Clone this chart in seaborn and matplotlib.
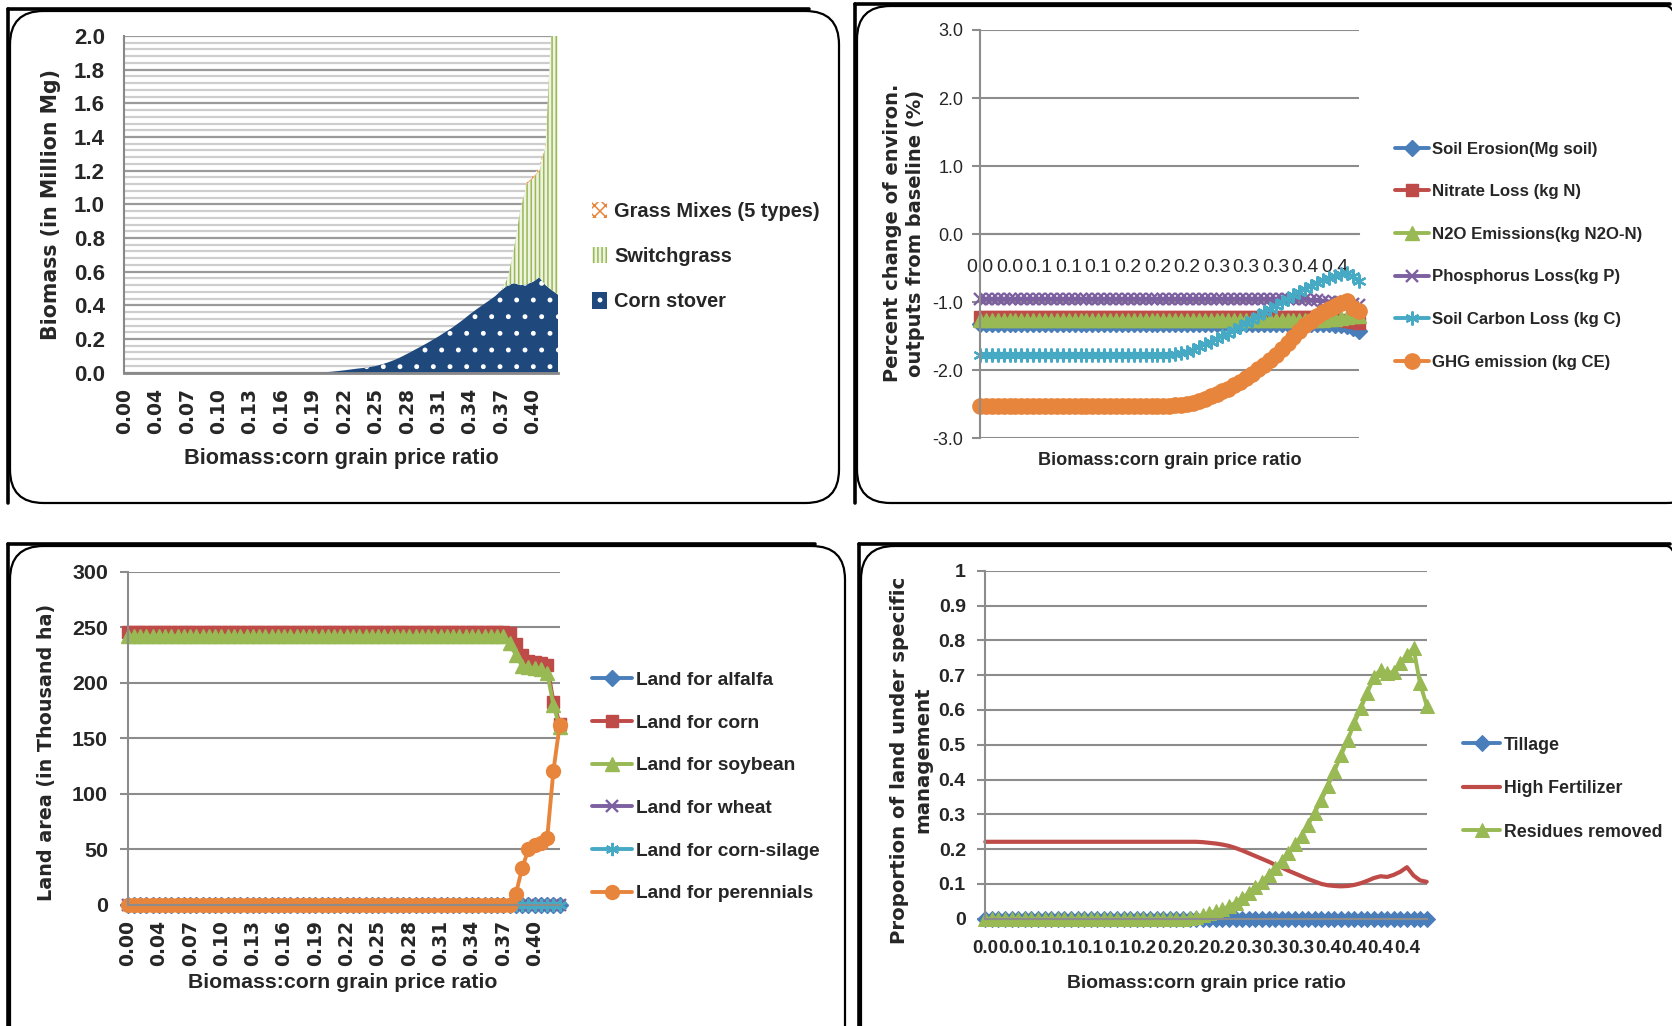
import numpy as np
import matplotlib
matplotlib.use("Agg")
import matplotlib.pyplot as plt
import seaborn as sns
from matplotlib.patches import FancyBboxPatch, Patch
from matplotlib.lines import Line2D
from matplotlib.font_manager import FontProperties

# ---------------- data ----------------
ratio_ticks_2dp = ['0.00', '0.04', '0.07', '0.10', '0.13', '0.16', '0.19',
                   '0.22', '0.25', '0.28', '0.31', '0.34', '0.37', '0.40']
ratio_ticks_env = ['0.0', '0.0', '0.1', '0.1', '0.1', '0.2', '0.2', '0.2',
                   '0.3', '0.3', '0.3', '0.4', '0.4']
ratio_ticks_mgmt = ['0.0', '0.0', '0.1', '0.1', '0.1', '0.1', '0.2', '0.2', '0.2',
                    '0.2', '0.3', '0.3', '0.3', '0.4', '0.4', '0.4', '0.4']

# Panel 1: biomass (million Mg), 70 price steps
corn_stover = [0, 0, 0, 0, 0, 0, 0, 0, 0, 0,
               0, 0, 0, 0, 0, 0, 0, 0, 0, 0,
               0, 0, 0, 0, 0, 0, 0, 0, 0, 0,
               0, 0, 0.003, 0.006, 0.010, 0.014, 0.019, 0.024, 0.028, 0.033,
               0.040, 0.050, 0.062, 0.076, 0.093, 0.112, 0.132, 0.152, 0.172, 0.194,
               0.216, 0.240, 0.263, 0.290, 0.318, 0.348, 0.376, 0.402, 0.428, 0.455,
               0.490, 0.520, 0.532, 0.520, 0.525, 0.540, 0.566, 0.520, 0.490, 0.463]
switchgrass = [0, 0, 0, 0, 0, 0, 0, 0, 0, 0,
               0, 0, 0, 0, 0, 0, 0, 0, 0, 0,
               0, 0, 0, 0, 0, 0, 0, 0, 0, 0,
               0, 0, 0, 0, 0, 0, 0, 0, 0, 0,
               0, 0, 0, 0, 0, 0, 0, 0, 0, 0,
               0, 0, 0, 0, 0, 0, 0, 0, 0, 0,
               0, 0.045, 0.208, 0.450, 0.595, 0.615, 0.634, 0.830, 1.610, 2.137]
grass_mixes = [0, 0, 0, 0, 0, 0, 0, 0, 0, 0,
               0, 0, 0, 0, 0, 0, 0, 0, 0, 0,
               0, 0, 0, 0, 0, 0, 0, 0, 0, 0,
               0, 0, 0, 0, 0, 0, 0, 0, 0, 0,
               0, 0, 0, 0, 0, 0, 0, 0, 0, 0,
               0, 0, 0, 0, 0, 0, 0, 0, 0, 0,
               0, 0, 0, 0, 0.010, 0.015, 0.020, 0.010, 0, 0]

# Panel 2: percent change of environmental outputs, 65 price steps
soil_erosion = [-1.32, -1.32, -1.32, -1.32, -1.32, -1.32, -1.32, -1.32, -1.32, -1.32,
                -1.32, -1.32, -1.32, -1.32, -1.32, -1.32, -1.32, -1.32, -1.32, -1.32,
                -1.32, -1.32, -1.32, -1.32, -1.32, -1.32, -1.32, -1.32, -1.32, -1.32,
                -1.32, -1.32, -1.32, -1.32, -1.32, -1.32, -1.32, -1.32, -1.32, -1.32,
                -1.32, -1.32, -1.32, -1.32, -1.32, -1.32, -1.32, -1.32, -1.32, -1.32,
                -1.32, -1.32, -1.32, -1.32, -1.32, -1.32, -1.32, -1.32, -1.32, -1.32,
                -1.33, -1.34, -1.35, -1.38, -1.42]
nitrate_loss = [-1.22, -1.22, -1.22, -1.22, -1.22, -1.22, -1.22, -1.22, -1.22, -1.22,
                -1.22, -1.22, -1.22, -1.22, -1.22, -1.22, -1.22, -1.22, -1.22, -1.22,
                -1.22, -1.22, -1.22, -1.22, -1.22, -1.22, -1.22, -1.22, -1.22, -1.22,
                -1.22, -1.22, -1.22, -1.22, -1.22, -1.22, -1.22, -1.22, -1.22, -1.22,
                -1.22, -1.22, -1.22, -1.22, -1.22, -1.22, -1.22, -1.22, -1.22, -1.22,
                -1.22, -1.22, -1.22, -1.22, -1.22, -1.22, -1.22, -1.22, -1.23, -1.24,
                -1.25, -1.26, -1.27, -1.29, -1.31]
n2o_emissions = [-1.26, -1.26, -1.26, -1.26, -1.26, -1.26, -1.26, -1.26, -1.26, -1.26,
                 -1.26, -1.26, -1.26, -1.26, -1.26, -1.26, -1.26, -1.26, -1.26, -1.26,
                 -1.26, -1.26, -1.26, -1.26, -1.26, -1.26, -1.26, -1.26, -1.26, -1.26,
                 -1.26, -1.26, -1.26, -1.26, -1.26, -1.26, -1.26, -1.26, -1.26, -1.26,
                 -1.26, -1.26, -1.26, -1.26, -1.26, -1.26, -1.26, -1.26, -1.26, -1.26,
                 -1.26, -1.26, -1.26, -1.26, -1.26, -1.26, -1.26, -1.26, -1.26, -1.25,
                 -1.24, -1.23, -1.22, -1.21, -1.20]
phosphorus_loss = [-0.95, -0.95, -0.95, -0.95, -0.95, -0.95, -0.95, -0.95, -0.95, -0.95,
                   -0.95, -0.95, -0.95, -0.95, -0.95, -0.95, -0.95, -0.95, -0.95, -0.95,
                   -0.95, -0.95, -0.95, -0.95, -0.95, -0.95, -0.95, -0.95, -0.95, -0.95,
                   -0.95, -0.95, -0.95, -0.95, -0.95, -0.95, -0.95, -0.95, -0.95, -0.95,
                   -0.95, -0.95, -0.95, -0.95, -0.95, -0.95, -0.95, -0.95, -0.95, -0.95,
                   -0.95, -0.95, -0.95, -0.95, -0.95, -0.96, -0.97, -0.97, -0.98, -0.99,
                   -1.00, -1.00, -1.01, -1.02, -1.04]
soil_carbon_loss = [-1.78, -1.78, -1.78, -1.78, -1.78, -1.78, -1.78, -1.78, -1.78, -1.78,
                    -1.78, -1.78, -1.78, -1.78, -1.78, -1.78, -1.78, -1.78, -1.78, -1.78,
                    -1.78, -1.78, -1.78, -1.78, -1.78, -1.78, -1.78, -1.78, -1.78, -1.78,
                    -1.78, -1.775, -1.77, -1.76, -1.75, -1.73, -1.70, -1.66, -1.62, -1.58,
                    -1.54, -1.50, -1.46, -1.41, -1.36, -1.31, -1.26, -1.21, -1.15, -1.10,
                    -1.05, -1.00, -0.95, -0.90, -0.85, -0.80, -0.76, -0.72, -0.68, -0.645,
                    -0.62, -0.59, -0.57, -0.62, -0.69]
ghg_emission = [-2.52, -2.52, -2.52, -2.52, -2.52, -2.52, -2.52, -2.52, -2.52, -2.52,
                -2.52, -2.52, -2.52, -2.52, -2.52, -2.52, -2.52, -2.52, -2.52, -2.52,
                -2.52, -2.52, -2.52, -2.52, -2.52, -2.52, -2.52, -2.52, -2.52, -2.52,
                -2.52, -2.52, -2.52, -2.515, -2.51, -2.50, -2.48, -2.45, -2.42, -2.38,
                -2.35, -2.31, -2.27, -2.22, -2.17, -2.11, -2.05, -1.98, -1.92, -1.85,
                -1.77, -1.69, -1.60, -1.51, -1.42, -1.34, -1.27, -1.21, -1.15, -1.10,
                -1.06, -1.01, -0.98, -1.08, -1.13]

# Panel 3: land area (thousand ha), 70 price steps
land_alfalfa = [0, 0, 0, 0, 0, 0, 0, 0, 0, 0,
                0, 0, 0, 0, 0, 0, 0, 0, 0, 0,
                0, 0, 0, 0, 0, 0, 0, 0, 0, 0,
                0, 0, 0, 0, 0, 0, 0, 0, 0, 0,
                0, 0, 0, 0, 0, 0, 0, 0, 0, 0,
                0, 0, 0, 0, 0, 0, 0, 0, 0, 0,
                0, 0, 0, 0, 0, 0, 0, 0, 0, 0]
land_corn = [246, 246, 246, 246, 246, 246, 246, 246, 246, 246,
             246, 246, 246, 246, 246, 246, 246, 246, 246, 246,
             246, 246, 246, 246, 246, 246, 246, 246, 246, 246,
             246, 246, 246, 246, 246, 246, 246, 246, 246, 246,
             246, 246, 246, 246, 246, 246, 246, 246, 246, 246,
             246, 246, 246, 246, 246, 246, 246, 246, 246, 246,
             246, 245, 235, 225, 220, 219, 218, 216, 183, 163]
land_soybean = [242, 242, 242, 242, 242, 242, 242, 242, 242, 242,
                242, 242, 242, 242, 242, 242, 242, 242, 242, 242,
                242, 242, 242, 242, 242, 242, 242, 242, 242, 242,
                242, 242, 242, 242, 242, 242, 242, 242, 242, 242,
                242, 242, 242, 242, 242, 242, 242, 242, 242, 242,
                242, 242, 242, 242, 242, 242, 242, 242, 242, 242,
                242, 236, 225, 215, 214, 213, 212, 209, 180, 160]
land_wheat = [0, 0, 0, 0, 0, 0, 0, 0, 0, 0,
              0, 0, 0, 0, 0, 0, 0, 0, 0, 0,
              0, 0, 0, 0, 0, 0, 0, 0, 0, 0,
              0, 0, 0, 0, 0, 0, 0, 0, 0, 0,
              0, 0, 0, 0, 0, 0, 0, 0, 0, 0,
              0, 0, 0, 0, 0, 0, 0, 0, 0, 0,
              0, 0, 0, 0, 0, 0, 0, 0, 0, 0]
land_silage = [0, 0, 0, 0, 0, 0, 0, 0, 0, 0,
               0, 0, 0, 0, 0, 0, 0, 0, 0, 0,
               0, 0, 0, 0, 0, 0, 0, 0, 0, 0,
               0, 0, 0, 0, 0, 0, 0, 0, 0, 0,
               0, 0, 0, 0, 0, 0, 0, 0, 0, 0,
               0, 0, 0, 0, 0, 0, 0, 0, 0, 0,
               0, 0, 0, 0, 0, 0, 0, 0, 0, 0]
land_perennials = [0, 0, 0, 0, 0, 0, 0, 0, 0, 0,
                   0, 0, 0, 0, 0, 0, 0, 0, 0, 0,
                   0, 0, 0, 0, 0, 0, 0, 0, 0, 0,
                   0, 0, 0, 0, 0, 0, 0, 0, 0, 0,
                   0, 0, 0, 0, 0, 0, 0, 0, 0, 0,
                   0, 0, 0, 0, 0, 0, 0, 0, 0, 0,
                   0, 0, 10, 33, 50, 54, 56, 60, 121, 162]

# Panel 4: proportion of land under management, 68 price steps
tillage = [0, 0, 0, 0, 0, 0, 0, 0, 0, 0,
           0, 0, 0, 0, 0, 0, 0, 0, 0, 0,
           0, 0, 0, 0, 0, 0, 0, 0, 0, 0,
           0, 0, 0, 0, 0, 0, 0, 0, 0, 0,
           0, 0, 0, 0, 0, 0, 0, 0, 0, 0,
           0, 0, 0, 0, 0, 0, 0, 0, 0, 0,
           0, 0, 0, 0, 0, 0, 0, 0]
high_fertilizer = [0.221, 0.221, 0.221, 0.221, 0.221, 0.221, 0.221, 0.221, 0.221, 0.221,
                   0.221, 0.221, 0.221, 0.221, 0.221, 0.221, 0.221, 0.221, 0.221, 0.221,
                   0.221, 0.221, 0.221, 0.221, 0.221, 0.221, 0.221, 0.221, 0.221, 0.221,
                   0.221, 0.221, 0.221, 0.220, 0.218, 0.216, 0.213, 0.209, 0.203, 0.196,
                   0.188, 0.180, 0.172, 0.164, 0.155, 0.147, 0.138, 0.130, 0.122, 0.114,
                   0.107, 0.100, 0.096, 0.094, 0.093, 0.094, 0.097, 0.102, 0.109, 0.117,
                   0.122, 0.120, 0.126, 0.135, 0.148, 0.124, 0.110, 0.106]
residues_removed = [0, 0, 0, 0, 0, 0, 0, 0, 0, 0,
                    0, 0, 0, 0, 0, 0, 0, 0, 0, 0,
                    0, 0, 0, 0, 0, 0, 0, 0, 0, 0,
                    0, 0.002, 0.005, 0.010, 0.017, 0.022, 0.027, 0.036, 0.046, 0.060,
                    0.074, 0.090, 0.106, 0.126, 0.146, 0.167, 0.190, 0.214, 0.238, 0.270,
                    0.305, 0.340, 0.382, 0.425, 0.470, 0.513, 0.562, 0.605, 0.650, 0.695,
                    0.715, 0.705, 0.710, 0.734, 0.758, 0.777, 0.676, 0.612]

# ---------------- style ----------------
sns.set_theme(style="white")
SANS = 'Liberation Sans'
WIDE = 'DejaVu Sans'
plt.rcParams['font.family'] = [SANS, 'DejaVu Sans']
plt.rcParams['hatch.linewidth'] = 1.1

BLUE, RED, GREEN, PURPLE, TEAL, ORANGE = '#4A7EBB', '#BE4B48', '#98B954', '#7D60A0', '#46AAC5', '#E8853C'
GRID = '#8C8C8C'

W, H = 1672, 1026
fig = plt.figure(figsize=(W / 100, H / 100), dpi=100)


def axes_px(x0, y0, x1, y1):
    return fig.add_axes([x0 / W, 1 - y1 / H, (x1 - x0) / W, (y1 - y0) / H])


def frame(x0, y0, x1, y1):
    box = FancyBboxPatch((x0 / W, 1 - y1 / H), (x1 - x0) / W, (y1 - y0) / H,
                         boxstyle='round,pad=0,rounding_size=0.02', mutation_aspect=W / H,
                         transform=fig.transFigure, fill=False, ec='black', lw=1.6, zorder=0)
    fig.add_artist(box)
    fig.add_artist(Line2D([(x0 - 2) / W, (x1 - 30) / W], [1 - (y0 - 2) / H] * 2, color='black',
                          lw=2.6, transform=fig.transFigure))
    fig.add_artist(Line2D([(x0 - 2) / W] * 2, [1 - (y0 - 2) / H, 1 - min(y1, H) / H], color='black',
                          lw=2.6, transform=fig.transFigure))


frame(10, 11, 839, 503)
frame(857, 6, 1700, 503)
frame(10, 546, 845, 1060)
frame(861, 546, 1700, 1060)

bold = dict(family=[SANS, 'DejaVu Sans'], weight='bold')


def ytitle(x, y, s, size):
    fig.text(x / W, 1 - y / H, s, rotation=90, ha='center', va='center', family=WIDE,
             weight='bold', fontsize=size, linespacing=1.3)


def xtitle(x, y, s, size):
    fig.text(x / W, 1 - y / H, s, ha='center', va='center', fontsize=size, **bold)


def legend_font(size):
    return FontProperties(family=SANS, weight='bold', size=size)


# ---------------- panel 1: stacked area ----------------
ax1 = axes_px(124.3, 36, 558.1, 372.7)
x70 = np.arange(len(corn_stover))
s1 = np.array(corn_stover)
s2 = s1 + np.array(switchgrass)
s3 = s2 + np.array(grass_mixes)
for v in np.arange(0, 2.001, 0.04):
    major = abs(v / 0.2 - round(v / 0.2)) < 1e-6
    ax1.axhline(v, color='#9A9A9A' if major else '#CDCDCD', lw=1.6, zorder=0)
ax1.fill_between(x70, 0, s1, facecolor='#1F497D', edgecolor='white', hatch='.', lw=0, zorder=2)
ax1.fill_between(x70, s1, s2, facecolor='#EEF3E2', edgecolor=GREEN, hatch='||||', lw=0, zorder=2)
ax1.fill_between(x70, s2, s3, facecolor='white', edgecolor=ORANGE, hatch='xxx', lw=0, zorder=2)
ax1.set_xlim(0, len(corn_stover) - 1)
ax1.set_ylim(0, 2.0)
ax1.set_yticks(np.arange(0, 2.001, 0.2))
ax1.set_yticklabels([f'{v:.1f}' for v in np.arange(0, 2.001, 0.2)], fontsize=16, **bold)
ax1.set_xticks(np.arange(0, 70, 5))
ax1.set_xticklabels(ratio_ticks_2dp, rotation=90, family=WIDE, weight='bold', fontsize=13.5)
ax1.tick_params(axis='y', length=0, pad=14)
ax1.tick_params(axis='x', length=0, pad=11)
for sp in ['top', 'right']:
    ax1.spines[sp].set_visible(False)
ax1.spines['left'].set_color('#888888')
ax1.spines['bottom'].set_color('#888888')
ax1.spines['left'].set_linewidth(1.5)
ax1.spines['bottom'].set_linewidth(2)
ax1.patch.set_alpha(0)
h1 = [Patch(facecolor='white', edgecolor=ORANGE, hatch='xxx', lw=0),
      Patch(facecolor='#EEF3E2', edgecolor=GREEN, hatch='||||', lw=0),
      Patch(facecolor='#1F497D', edgecolor='white', hatch='.', lw=0)]
ax1.legend(h1, ['Grass Mixes (5 types)', 'Switchgrass', 'Corn stover'], loc='center left',
           bbox_to_anchor=(592 / W, 1 - 256.5 / H), bbox_transform=fig.transFigure, frameon=False,
           handlelength=0.75, handleheight=0.9, handletextpad=0.35, labelspacing=1.3, borderpad=0,
           borderaxespad=0, prop=legend_font(14.4))
ytitle(51, 205, 'Biomass (in Million Mg)', 14.8)
xtitle(341, 458.5, 'Biomass:corn grain price ratio', 15.6)

# ---------------- panel 2: environmental outputs ----------------
ax2 = axes_px(980, 30, 1358.5, 438.3)
x65 = np.arange(len(soil_erosion))
p2 = [(soil_erosion, 'Soil Erosion(Mg soil)', BLUE, 'D', 8.5, 1),
      (nitrate_loss, 'Nitrate Loss (kg N)', RED, 's', 8, 1),
      (n2o_emissions, 'N2O Emissions(kg N2O-N)', GREEN, '^', 10, 1),
      (phosphorus_loss, 'Phosphorus Loss(kg P)', PURPLE, 'x', 8.5, 1.7),
      (soil_carbon_loss, 'Soil Carbon Loss (kg C)', TEAL, (6, 2, 0), 10, 1.6),
      (ghg_emission, 'GHG emission (kg CE)', ORANGE, 'o', 11, 1)]
for vals, name, col, mk, ms, mew in p2:
    sns.lineplot(x=x65, y=vals, ax=ax2, color=col, marker=mk, markersize=ms, markeredgecolor=col,
                 markerfacecolor=col, markeredgewidth=mew, lw=2.8, label=name, clip_on=False)
ax2.spines['bottom'].set_position(('data', 0))
ax2.set_xlim(0, len(soil_erosion) - 1)
ax2.set_ylim(-3, 3)
ax2.set_axisbelow(True)
ax2.yaxis.grid(True, color=GRID, lw=1.5)
ax2.set_yticks(np.arange(-3, 3.01, 1))
ax2.set_yticklabels([f'{v:.1f}' for v in np.arange(-3, 3.01, 1)], fontsize=13, family=SANS)
ax2.set_xticks(np.arange(0, 65, 5))
ax2.set_xticklabels(ratio_ticks_env, fontsize=14, family=SANS)
for sp in ['top', 'right']:
    ax2.spines[sp].set_visible(False)
for sp in ['left', 'bottom']:
    ax2.spines[sp].set_color(GRID)
    ax2.spines[sp].set_linewidth(1.5)
ax2.tick_params(axis='y', length=6, width=1.5, color=GRID, pad=6, left=True)
ax2.tick_params(axis='x', length=0, pad=18)
ax2.set_xlabel('')
ax2.set_ylabel('')
ax2.legend(loc='center left', bbox_to_anchor=(1395 / W, 1 - 255.7 / H), bbox_transform=fig.transFigure,
           frameon=False, handlelength=2.0, handletextpad=0.2, labelspacing=1.64, borderpad=0,
           borderaxespad=0, numpoints=1, prop=legend_font(12.1))
ytitle(904, 233, 'Percent change of environ.\noutputs from baseline (%)', 14.0)
xtitle(1170, 460.6, 'Biomass:corn grain price ratio', 13.1)

# ---------------- panel 3: land area ----------------
ax3 = axes_px(127.5, 571.7, 559.7, 905)
x70b = np.arange(len(land_corn))
p3 = [(land_alfalfa, 'Land for alfalfa', BLUE, 'D', 8, 1),
      (land_corn, 'Land for corn', RED, 's', 8, 1),
      (land_soybean, 'Land for soybean', GREEN, '^', 9.5, 1),
      (land_wheat, 'Land for wheat', PURPLE, 'x', 8, 1.7),
      (land_silage, 'Land for corn-silage', TEAL, (6, 2, 0), 9.5, 1.6),
      (land_perennials, 'Land for perennials', ORANGE, 'o', 10, 1)]
for vals, name, col, mk, ms, mew in p3:
    sns.lineplot(x=x70b, y=vals, ax=ax3, color=col, marker=mk, markersize=ms, markeredgecolor=col,
                 markerfacecolor=col, markeredgewidth=mew, lw=2.8, label=name, clip_on=False)
ax3.set_xlim(0, len(land_corn) - 1)
ax3.set_ylim(0, 300)
ax3.set_axisbelow(True)
ax3.yaxis.grid(True, color=GRID, lw=1.5)
ax3.set_yticks(np.arange(0, 301, 50))
ax3.set_yticklabels([str(v) for v in range(0, 301, 50)], fontsize=15.4, **bold)
ax3.set_xticks(np.arange(0, 70, 5))
ax3.set_xticklabels(ratio_ticks_2dp, rotation=90, family=WIDE, weight='bold', fontsize=13.5)
for sp in ['top', 'right']:
    ax3.spines[sp].set_visible(False)
for sp in ['left', 'bottom']:
    ax3.spines[sp].set_color(GRID)
    ax3.spines[sp].set_linewidth(1.5)
ax3.tick_params(axis='y', length=6, width=1.5, color=GRID, pad=8, left=True)
ax3.tick_params(axis='x', length=0, pad=11)
ax3.set_xlabel('')
ax3.set_ylabel('')
ax3.legend(loc='center left', bbox_to_anchor=(592 / W, 1 - 787 / H), bbox_transform=fig.transFigure,
           frameon=False, handlelength=2.1, handletextpad=0.2, labelspacing=1.32, borderpad=0,
           borderaxespad=0, numpoints=1, prop=legend_font(13.8))
ytitle(47, 752, 'Land area (in Thousand ha)', 13.8)
xtitle(343, 982, 'Biomass:corn grain price ratio', 15.3)

# ---------------- panel 4: management ----------------
ax4 = axes_px(985.3, 570.7, 1426.7, 918.7)
x68 = np.arange(len(tillage))
sns.lineplot(x=x68, y=tillage, ax=ax4, color=BLUE, marker='D', markersize=8, markeredgecolor=BLUE,
             markerfacecolor=BLUE, lw=2.8, label='Tillage', clip_on=False)
sns.lineplot(x=x68, y=high_fertilizer, ax=ax4, color=RED, lw=3, label='High Fertilizer', clip_on=False)
sns.lineplot(x=x68, y=residues_removed, ax=ax4, color=GREEN, marker='^', markersize=10,
             markeredgecolor=GREEN, markerfacecolor=GREEN, lw=2.8, label='Residues removed', clip_on=False)
ax4.set_xlim(0, len(tillage) - 1)
ax4.set_ylim(0, 1)
ax4.set_axisbelow(True)
ax4.yaxis.grid(True, color=GRID, lw=1.5)
yt4 = np.round(np.arange(0, 1.001, 0.1), 1)
ax4.set_yticks(yt4)
ax4.set_yticklabels(['0' if v == 0 else ('1' if v == 1 else f'{v:.1f}') for v in yt4], fontsize=14,
                    **bold)
ax4.set_xticks(np.arange(0, 68, 4))
ax4.set_xticklabels(ratio_ticks_mgmt, fontsize=13.5, **bold)
for sp in ['top', 'right']:
    ax4.spines[sp].set_visible(False)
for sp in ['left', 'bottom']:
    ax4.spines[sp].set_color(GRID)
    ax4.spines[sp].set_linewidth(1.5)
ax4.tick_params(axis='y', length=6, width=1.5, color=GRID, pad=8, left=True)
ax4.tick_params(axis='x', length=0, pad=15)
ax4.set_xlabel('')
ax4.set_ylabel('')
ax4.legend(loc='center left', bbox_to_anchor=(1463 / W, 1 - 788.7 / H), bbox_transform=fig.transFigure,
           frameon=False, handlelength=2.1, handletextpad=0.2, labelspacing=1.49, borderpad=0,
           borderaxespad=0, numpoints=1, prop=legend_font(12.8))
ytitle(911, 760, 'Proportion of land under specific\nmanagement', 14.2)
xtitle(1206, 984, 'Biomass:corn grain price ratio', 13.9)

fig.savefig('out.png', dpi=100)
